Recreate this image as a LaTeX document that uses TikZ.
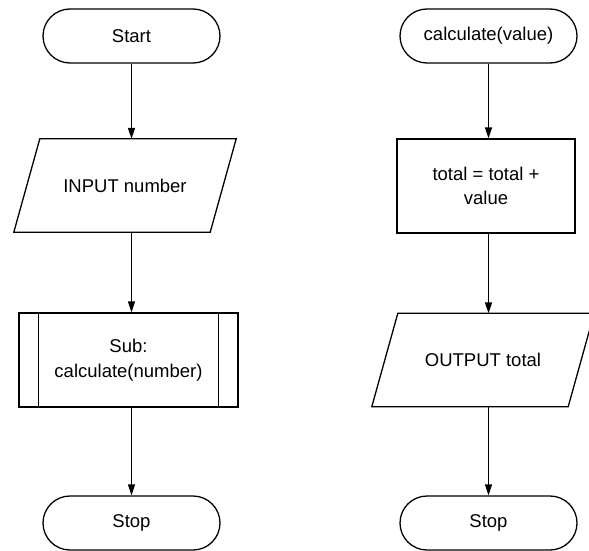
\documentclass[tikz,border=0pt]{standalone}
\usepackage{fontspec}
\setmainfont{Liberation Sans}
\usetikzlibrary{arrows.meta}
\begin{document}
\begin{tikzpicture}[x=1pt,y=-1pt,
  every node/.style={font=\fontsize{18.5}{24.5}\selectfont, align=center, inner sep=0pt},
  term/.style={draw, line width=1.3pt, rounded corners=27pt, minimum width=177pt, minimum height=54pt},
  proc/.style={draw, line width=1.3pt, minimum width=178pt, minimum height=94pt},
  subproc/.style={draw, line width=1.3pt, minimum width=219pt, minimum height=94pt},
  io/.style={minimum width=196pt, minimum height=93pt},
  shapeline/.style={line width=1.3pt, line join=miter},
  arr/.style={line width=1.3pt, -{Triangle[length=11pt,width=7pt]}}]
\useasboundingbox (0,0) rectangle (589,551);
\begin{scope}
\clip (0,0) rectangle (589,551);
% left flowchart
\node[term] (start) at (131.5,36) {Start};
\node[io] (in) at (125,185.5) {INPUT number};
\draw[shapeline] ([xshift=13pt]in.north west) -- ([xshift=13pt]in.north east)
  -- ([xshift=-13pt]in.south east) -- ([xshift=-13pt]in.south west) -- cycle;
\node[subproc] (sub) at (128.5,360) {Sub:\\calculate(number)};
\draw[shapeline] ([xshift=20pt]sub.north west) -- ([xshift=20pt]sub.south west);
\draw[shapeline] ([xshift=-20pt]sub.north east) -- ([xshift=-20pt]sub.south east);
\node[term] (stop1) at (131.5,523) {Stop};
% right flowchart
\node[term] (calc) at (488.5,36) {calculate(value)};
\node[proc] (tot) at (486,186) {total = total +\\value};
\node[io] (out) at (483,360) {OUTPUT total};
\draw[shapeline] ([xshift=13pt]out.north west) -- ([xshift=13pt]out.north east)
  -- ([xshift=-13pt]out.south east) -- ([xshift=-13pt]out.south west) -- cycle;
\node[term] (stop2) at (488.5,523) {Stop};
% connectors
\draw[arr] (start.south) -- (start.south |- in.north);
\draw[arr] (start.south |- in.south) -- (start.south |- sub.north);
\draw[arr] (start.south |- sub.south) -- (stop1.north);
\draw[arr] (calc.south) -- (calc.south |- tot.north);
\draw[arr] (calc.south |- tot.south) -- (calc.south |- out.north);
\draw[arr] (calc.south |- out.south) -- (stop2.north);
\end{scope}
\end{tikzpicture}
\end{document}
